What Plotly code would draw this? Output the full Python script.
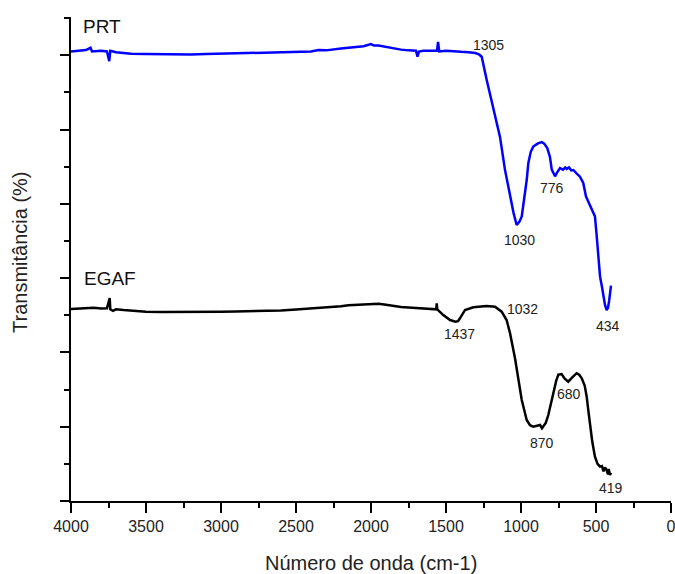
import plotly.graph_objects as go

# ---- data ----
prt_wn = [4000, 3950, 3900, 3870, 3860, 3800, 3760, 3745, 3738, 3700, 3650, 3600, 3500, 3400,
          3300, 3200, 3100, 3000, 2900, 2800, 2700, 2600, 2500, 2400, 2350, 2300, 2200, 2100,
          2050, 2000, 1980, 1950, 1900, 1850, 1800, 1750, 1700, 1690, 1680, 1650, 1600, 1560,
          1553, 1545, 1500, 1450, 1400, 1350, 1305, 1280, 1262, 1229, 1185, 1140, 1107, 1073,
          1050, 1029, 1010, 995, 975, 962, 951, 935, 918, 890, 862, 845, 825, 807, 795, 773,
          760, 740, 720, 705, 695, 680, 665, 651, 630, 607, 585, 567, 545, 529, 515, 507, 495,
          485, 473, 460, 451, 440, 429, 420, 412, 407, 400]
prt_t = [6.05, 6.06, 6.07, 6.10, 6.05, 6.06, 6.05, 5.92, 6.06, 6.04, 6.03, 6.02, 6.015, 6.01,
         6.005, 6.01, 6.015, 6.02, 6.025, 6.03, 6.035, 6.035, 6.04, 6.05, 6.07, 6.065, 6.09, 6.11,
         6.12, 6.15, 6.13, 6.13, 6.11, 6.09, 6.075, 6.065, 6.06, 5.98, 6.05, 6.06, 6.065, 6.06,
         6.18, 6.05, 6.06, 6.05, 6.045, 6.04, 6.03, 6.01, 5.98, 5.67, 5.31, 4.90, 4.46, 4.10,
         3.88, 3.715, 3.76, 3.83, 4.10, 4.32, 4.55, 4.70, 4.77, 4.81, 4.83, 4.81, 4.75, 4.63, 4.46, 4.37,
         4.42, 4.48, 4.46, 4.49, 4.47, 4.49, 4.45, 4.455, 4.41, 4.365, 4.28, 4.10, 4.00, 3.92, 3.87, 3.83, 3.56,
         3.30, 3.02, 2.88, 2.75, 2.64, 2.57, 2.60, 2.70, 2.80, 2.90]

egaf_wn = [4000, 3950, 3900, 3850, 3800, 3760, 3742, 3738, 3720, 3700, 3650, 3600, 3500, 3400,
           3300, 3200, 3100, 3000, 2900, 2800, 2700, 2600, 2500, 2400, 2300, 2200, 2150, 2100,
           2050, 2000, 1950, 1900, 1850, 1800, 1700, 1650, 1600, 1565, 1562, 1558, 1518, 1473,
           1437, 1420, 1407, 1373, 1318, 1270, 1229, 1173, 1129, 1096, 1073, 1040, 1018, 995,
           962, 940, 918, 890, 873, 860, 851, 835, 818, 785, 765, 751, 729, 710, 685, 660, 629,
           612, 595, 575, 562, 550, 540, 525, 507, 490, 473, 460, 450, 440, 429, 420, 415, 407, 400]
egaf_t = [2.585, 2.59, 2.595, 2.60, 2.59, 2.595, 2.73, 2.58, 2.56, 2.58, 2.57, 2.56, 2.548, 2.544,
          2.543, 2.545, 2.545, 2.546, 2.55, 2.553, 2.557, 2.565, 2.577, 2.59, 2.604, 2.62, 2.635, 2.64,
          2.65, 2.66, 2.655, 2.64, 2.625, 2.612, 2.598, 2.59, 2.585, 2.58, 2.66, 2.58, 2.503, 2.436,
          2.413, 2.42, 2.459, 2.571, 2.607, 2.62, 2.624, 2.615, 2.548, 2.436, 2.257, 1.92, 1.63, 1.36,
          1.09, 1.02, 1.00, 1.01, 1.023, 0.98, 1.00, 1.05, 1.157, 1.45, 1.62, 1.70, 1.709, 1.65, 1.606, 1.66, 1.72,
          1.70, 1.651, 1.55, 1.404, 1.20, 1.00, 0.80, 0.596, 0.50, 0.462, 0.47, 0.40, 0.45, 0.417, 0.36, 0.43, 0.35, 0.38]

# peak labels: (text, wavenumber, y)
peak_text = ["1305", "1030", "776", "434", "1032", "1437", "870", "680", "419"]
peak_x = [1220, 1013, 793, 420, 993, 1413, 857, 680, 400]
peak_y = [6.137, 3.513, 4.213, 2.355, 2.584, 2.248, 0.781, 1.44, 0.175]

series_names = ["PRT", "EGAF"]
series_label_x = [3793, 3740]
series_label_y = [6.38, 2.988]

x_ticks = [4000, 3500, 3000, 2500, 2000, 1500, 1000, 500, 0]

FONT = "Arial, Liberation Sans, sans-serif"

fig = go.Figure()
fig.add_trace(go.Scatter(x=prt_wn, y=prt_t, mode="lines", name="PRT",
                         line=dict(color="#0000FF", width=2.5)))
fig.add_trace(go.Scatter(x=egaf_wn, y=egaf_t, mode="lines", name="EGAF",
                         line=dict(color="#000000", width=2.5)))

ann = []
for t, x, y in zip(peak_text, peak_x, peak_y):
    ann.append(dict(x=x, y=y, xref="x", yref="y", text=t, showarrow=False,
                    font=dict(family=FONT, size=14, color="#222")))
for t, x, y in zip(series_names, series_label_x, series_label_y):
    ann.append(dict(x=x, y=y, xref="x", yref="y", text=t, showarrow=False,
                    font=dict(family=FONT, size=19, color="#111")))
# axis titles
ann.append(dict(x=0.5, y=(501 - 563) / 484, xref="paper", yref="paper", text="Número de onda (cm-1)",
                showarrow=False, xanchor="center", yanchor="middle",
                font=dict(family=FONT, size=20, color="#222")))
ann.append(dict(x=-51 / 600, y=(501 - 252) / 484, xref="paper", yref="paper",
                text="Transmitância (%)", textangle=-90, showarrow=False,
                xanchor="center", yanchor="middle",
                font=dict(family=FONT, size=20, color="#222")))

fig.update_layout(
    width=675, height=574,
    margin=dict(l=71, r=4, t=17, b=73),
    paper_bgcolor="white", plot_bgcolor="white",
    showlegend=False,
    annotations=ann,
    font=dict(family=FONT, color="#222"),
)
fig.update_xaxes(range=[4000, 0], tickmode="array", tickvals=x_ticks,
                 ticktext=[str(v) for v in x_ticks], ticklabeloverflow="allow",
                 automargin=False,
                 showline=True, linecolor="black", linewidth=2, mirror=False,
                 ticks="outside", ticklen=10, tickwidth=2, tickcolor="black",
                 tickfont=dict(family=FONT, size=16, color="#222"),
                 minor=dict(dtick=250, tick0=0, ticks="outside", ticklen=5, tickwidth=2,
                            tickcolor="black", showgrid=False),
                 showgrid=False, zeroline=False)
fig.update_yaxes(range=[0, 484 / 74.3], tick0=0, dtick=1, showticklabels=False,
                 automargin=False,
                 showline=True, linecolor="black", linewidth=2,
                 ticks="outside", ticklen=9, tickwidth=2, tickcolor="black",
                 minor=dict(dtick=0.5, tick0=0, ticks="outside", ticklen=5, tickwidth=2,
                            tickcolor="black", showgrid=False),
                 showgrid=False, zeroline=False)

fig.write_html("out.html", config={"displayModeBar": False},
               post_script="document.body.style.margin='0';document.body.style.overflow='hidden';")
